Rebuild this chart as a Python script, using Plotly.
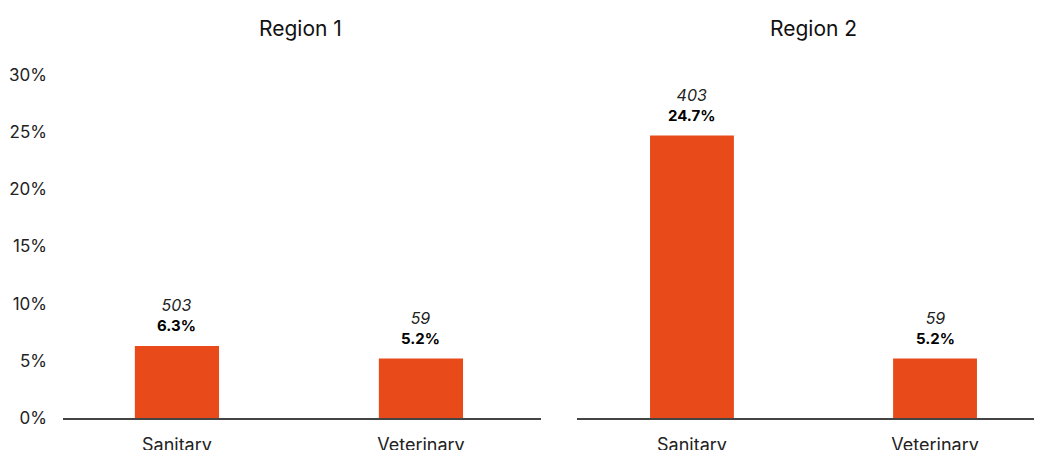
import plotly.graph_objects as go

categories = ["Sanitary", "Veterinary"]
region1_pct = [6.3, 5.2]
region1_count = [503, 59]
region2_pct = [24.7, 5.2]
region2_count = [403, 59]
titles = ["Region 1", "Region 2"]
y_ticks = [0, 5, 10, 15, 20, 25, 30]

W, H = 1042, 450
OFF = 8  # page body margin offset
TOP, BOT = 75 - OFF, 418 - OFF
BAR = "#E84A1A"
FONT = "Inter, Lato, sans-serif"

fig = go.Figure()
fig.add_trace(go.Bar(x=categories, y=region1_pct, xaxis="x", yaxis="y",
                     marker_color=BAR, marker_line_width=0, width=0.345,
                     hoverinfo="skip"))
fig.add_trace(go.Bar(x=categories, y=region2_pct, xaxis="x2", yaxis="y2",
                     marker_color=BAR, marker_line_width=0, width=0.345,
                     hoverinfo="skip"))

for (xr, yr, counts, pcts) in [("x", "y", region1_count, region1_pct),
                               ("x2", "y2", region2_count, region2_pct)]:
    for cat, c, p in zip(categories, counts, pcts):
        fig.add_annotation(x=cat, y=p, xref=xr, yref=yr, showarrow=False,
                           xanchor="center", yanchor="bottom", yshift=9,
                           text=f"<i><span style='font-size:16px;color:#222'>{c}</span></i><br><b>{p:.1f}%</b>",
                           font=dict(size=15, color="#000", family=FONT))

xcommon = dict(showgrid=False, zeroline=False, showline=True, linecolor="#444", linewidth=2,
               ticks="", tickfont=dict(size=18, color="#222", family=FONT), fixedrange=True,
               ticklabelstandoff=9, automargin=False)
fig.update_layout(
    template="none",
    width=W, height=H, showlegend=False,
    paper_bgcolor="white", plot_bgcolor="white",
    margin=dict(l=0, r=0, t=TOP, b=H - BOT),
    font=dict(family=FONT),
    xaxis=dict(domain=[(63 - OFF) / W, (541 - OFF) / W], range=[-0.467, 1.492], anchor="y", **xcommon),
    xaxis2=dict(domain=[(577 - OFF) / W, 1.0], range=[-0.473, 1.473], anchor="y2", **xcommon),
    yaxis=dict(range=[0, 30], tickvals=y_ticks, ticktext=[f"{v}%" for v in y_ticks],
               showgrid=False, zeroline=False, showline=False, ticks="",
               tickfont=dict(size=17, color="#222", family=FONT), ticklabelstandoff=15,
               anchor="x", fixedrange=True, automargin=False),
    yaxis2=dict(range=[0, 30], showgrid=False, zeroline=False, showline=False,
                showticklabels=False, anchor="x2", fixedrange=True, automargin=False),
)

centers = [(300 - OFF) / W, (813 - OFF) / W]
ypaper = (BOT - (28 - OFF)) / (BOT - TOP)
for t, cx in zip(titles, centers):
    fig.add_annotation(text=t, x=cx, y=ypaper, xref="paper", yref="paper",
                       yanchor="middle", xanchor="center", showarrow=False,
                       font=dict(size=21, color="#111", family=FONT))

fig.write_html("out.html")
